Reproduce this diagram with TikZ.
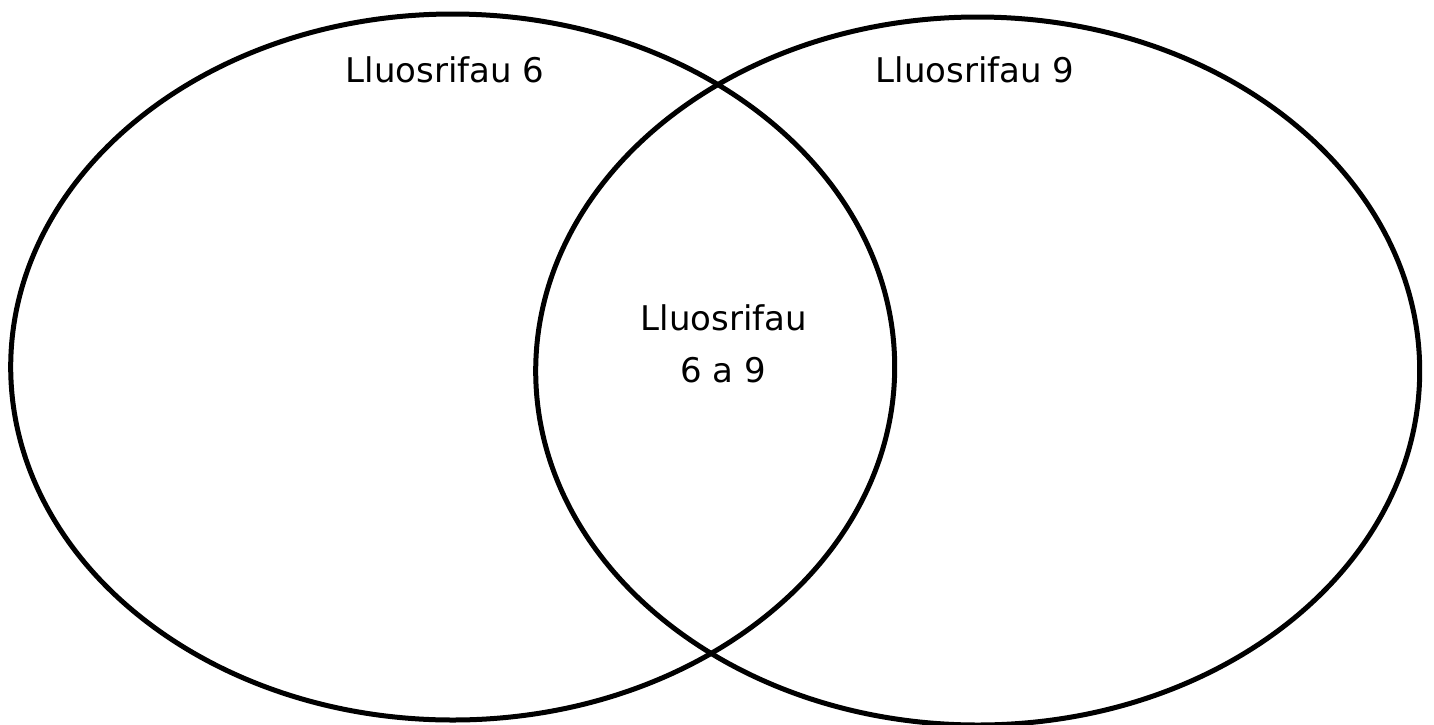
\documentclass[tikz,border=0pt]{standalone}
\usepackage{fontspec}
\setmainfont{DejaVu Sans}

\begin{document}
\begin{tikzpicture}[x=1pt, y=-1pt]
    \useasboundingbox (0, 0) rectangle (1434, 724);
    \draw[line width=5pt] (452.7, 367) ellipse [x radius=442, y radius=353];
    \draw[line width=5pt] (977.7, 371) ellipse [x radius=442, y radius=354];
    \node[anchor=base, font=\fontsize{34}{40}\selectfont] (six) at (445, 82) {Lluosrifau 6};
    \node[anchor=base, font=\fontsize{34}{40}\selectfont] (nine) at (975, 82) {Lluosrifau 9};
    \node[anchor=base, font=\fontsize{34}{40}\selectfont] (both) at (724, 330) {Lluosrifau};
    \node[anchor=base, font=\fontsize{34}{40}\selectfont] (bothnum) at (723, 382) {6 a 9};
\end{tikzpicture}
\end{document}
